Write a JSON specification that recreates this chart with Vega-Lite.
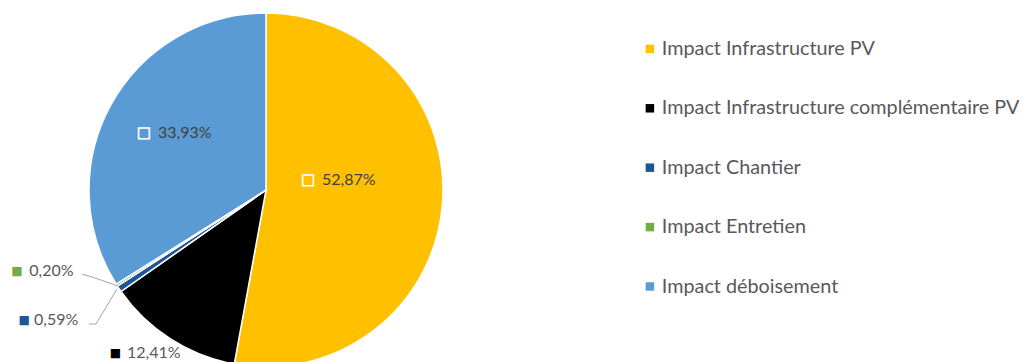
{
  "$schema": "https://vega.github.io/schema/vega-lite/v6.json",
  "autosize": {"type": "none"},
  "width": 532,
  "height": 344,
  "padding": {"left": 0, "top": 18, "right": 493, "bottom": 0},
  "background": "white",
  "config": {"view": {"stroke": null}},
  "data": {
    "values": [
      {"cat": "Impact Infrastructure PV", "value": 52.87, "label": "52,87%", "rank": 1},
      {"cat": "Impact Infrastructure complémentaire PV", "value": 12.41, "label": "12,41%", "rank": 2},
      {"cat": "Impact Chantier", "value": 0.59, "label": "0,59%", "rank": 3},
      {"cat": "Impact Entretien", "value": 0.20, "label": "0,20%", "rank": 4},
      {"cat": "Impact déboisement", "value": 33.93, "label": "33,93%", "rank": 5}
    ]
  },
  "layer": [
    {
      "mark": {"type": "arc", "outerRadius": 177, "stroke": "white", "strokeWidth": 1.5},
      "encoding": {
        "theta": {"field": "value", "type": "quantitative", "stack": true},
        "order": {"field": "rank", "type": "quantitative"},
        "color": {
          "field": "cat",
          "type": "nominal",
          "scale": {
            "domain": ["Impact Infrastructure PV", "Impact Infrastructure complémentaire PV", "Impact Chantier", "Impact Entretien", "Impact déboisement"],
            "range": ["#FFC000", "#000000", "#1F5597", "#70AD47", "#5B9BD5"]
          },
          "legend": {
            "orient": "none",
            "legendX": 640,
            "legendY": 21,
            "title": null,
            "padding": 0,
            "symbolType": "square",
            "symbolSize": 72,
            "symbolStrokeWidth": 0,
            "labelFont": "Lato",
            "labelFontSize": 19.8,
            "labelColor": "#595959",
            "labelOffset": 2,
            "rowPadding": 38.4,
            "labelLimit": 400
          }
        }
      }
    },
    {
      "mark": {"type": "point", "shape": "M-184,84L-174,87L-148,96M-177,134L-170,134L-149,99", "size": 4, "filled": false, "stroke": "#A6A6A6", "strokeWidth": 1, "opacity": 1},
      "transform": [{"filter": "datum.rank == 4"}],
      "encoding": {}
    },
    {
      "mark": {
        "type": "text",
        "text": "■",
        "font": "DejaVu Sans",
        "fontSize": 12,
        "align": "center",
        "baseline": "middle",
        "radius": {"expr": "[0,100,200,200,200,100][datum.rank]"},
        "dx": {"expr": "[0,-57.6,-42.5,-76,-80.3,-34.5][datum.rank]"},
        "dy": {"expr": "[0,-19,-5.4,18.4,-26.5,-8.6][datum.rank]"}
      },
      "encoding": {
        "theta": {"field": "value", "type": "quantitative", "stack": true},
        "order": {"field": "rank", "type": "quantitative"},
        "color": {"field": "cat", "type": "nominal", "legend": null},
        "opacity": {"condition": {"test": "datum.rank >= 2 && datum.rank <= 4", "value": 1}, "value": 0}
      }
    },
    {
      "mark": {
        "type": "text",
        "text": "■",
        "font": "DejaVu Sans",
        "fontSize": 14,
        "align": "center",
        "baseline": "middle",
        "fill": "transparent",
        "stroke": "white",
        "strokeWidth": 1.5,
        "radius": {"expr": "[0,100,200,200,200,100][datum.rank]"},
        "dx": {"expr": "[0,-57.6,-42.5,-76,-80.3,-34.5][datum.rank]"},
        "dy": {"expr": "[0,-19,-5.4,18.4,-26.5,-8.6][datum.rank]"}
      },
      "encoding": {
        "theta": {"field": "value", "type": "quantitative", "stack": true},
        "order": {"field": "rank", "type": "quantitative"},
        "opacity": {"condition": {"test": "datum.rank == 1 || datum.rank == 5", "value": 1}, "value": 0}
      }
    },
    {
      "mark": {
        "type": "text",
        "font": "Lato",
        "fontSize": 16,
        "align": "left",
        "baseline": "middle",
        "radius": {"expr": "[0,100,200,200,200,100][datum.rank]"},
        "dx": {"expr": "[0,-43.6,-31,-66,-68,-20.5][datum.rank]"},
        "dy": {"expr": "[0,-19,-5.4,18.4,-26.5,-8.6][datum.rank]"}
      },
      "encoding": {
        "theta": {"field": "value", "type": "quantitative", "stack": true},
        "order": {"field": "rank", "type": "quantitative"},
        "text": {"field": "label"},
        "color": {"condition": {"test": "datum.rank == 1 || datum.rank == 5", "value": "#404040"}, "value": "#595959"}
      }
    }
  ]
}
